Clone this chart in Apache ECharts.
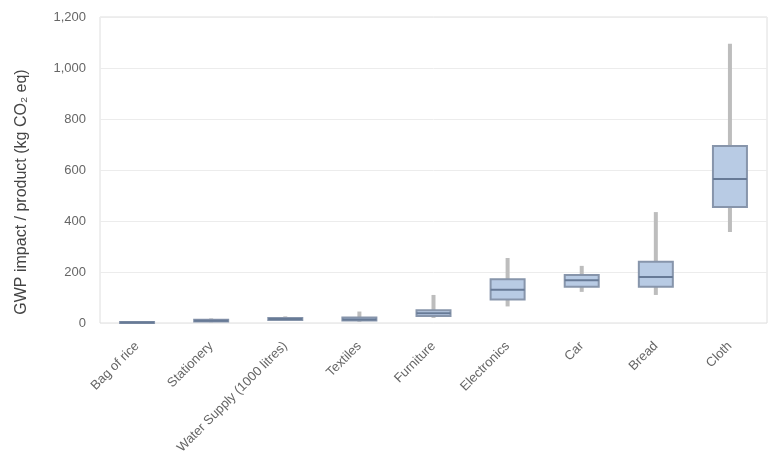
<!DOCTYPE html>
<html><head><meta charset="utf-8">
<script src="https://cdn.jsdelivr.net/npm/echarts@6/dist/echarts.min.js"></script>
<style>html,body{margin:0;padding:0;background:#fff}#c{width:773px;height:457px}</style>
</head><body><div id="c"></div>
<script>
const categories = ['Bag of rice','Stationery','Water Supply (1000 litres)','Textiles','Furniture','Electronics','Car','Bread','Cloth'];
// [min, Q1, median, Q3, max]
const boxValues = [
  [0, 1, 2, 4, 6],
  [3, 6, 9, 13, 18],
  [8, 12, 16, 20, 26],
  [5, 10, 14, 22, 45],
  [20, 27, 38, 50, 110],
  [65, 92, 130, 172, 255],
  [122, 142, 168, 188, 224],
  [110, 142, 180, 240, 435],
  [357, 455, 565, 694, 1095]
];
const yTicks = [0, 200, 400, 600, 800, 1000, 1200];

const seriesData = boxValues.map((b, i) => [i].concat(b));

function renderItem(params, api) {
  const i = api.value(0);
  const cx = api.coord([i, 0])[0];
  const yMin = api.coord([i, api.value(1)])[1];
  const yQ1 = api.coord([i, api.value(2)])[1];
  const yMed = api.coord([i, api.value(3)])[1];
  const yQ3 = api.coord([i, api.value(4)])[1];
  const yMax = api.coord([i, api.value(5)])[1];
  const hw = 17;
  return {
    type: 'group',
    children: [
      {type: 'line', shape: {x1: cx, y1: yMin, x2: cx, y2: yMax},
        style: {stroke: '#bdbdbd', lineWidth: 4}},
      {type: 'rect', shape: {x: cx - hw, y: yQ3, width: hw * 2, height: Math.max(yQ1 - yQ3, 1)},
        style: {fill: '#b8cbe4', stroke: '#8795ab', lineWidth: 2}},
      {type: 'line', shape: {x1: cx - hw, y1: yMed, x2: cx + hw, y2: yMed},
        style: {stroke: '#677a96', lineWidth: 2}}
    ]
  };
}

const chart = echarts.init(document.getElementById('c'));
chart.setOption({
  animation: false,
  grid: {left: 100, right: 6, top: 17, bottom: 134, show: true, borderColor: '#dedede', borderWidth: 1},
  xAxis: {
    type: 'category', data: categories,
    axisLine: {show: false}, axisTick: {show: false},
    axisLabel: {rotate: 45, color: '#666', fontSize: 13, fontFamily: 'Liberation Sans', interval: 0, margin: 21}
  },
  yAxis: {
    type: 'value', min: 0, max: 1200, interval: 200,
    name: 'GWP impact / product (kg CO\u2082 eq)', nameLocation: 'middle', nameGap: 70,
    nameTextStyle: {color: '#444', fontSize: 16, fontFamily: 'Liberation Sans', padding: [0, 44, 0, 0]},
    axisLine: {show: false}, axisTick: {show: false},
    axisLabel: {color: '#666', fontSize: 13, fontFamily: 'Liberation Sans', margin: 14,
      formatter: v => yTicks.includes(v) ? v.toLocaleString('en-US') : ''},
    splitLine: {lineStyle: {color: '#ececec'}}
  },
  series: [{
    type: 'custom',
    data: seriesData,
    renderItem: renderItem,
    encode: {x: 0, y: [1, 2, 3, 4, 5]}
  }]
});
</script></body></html>
